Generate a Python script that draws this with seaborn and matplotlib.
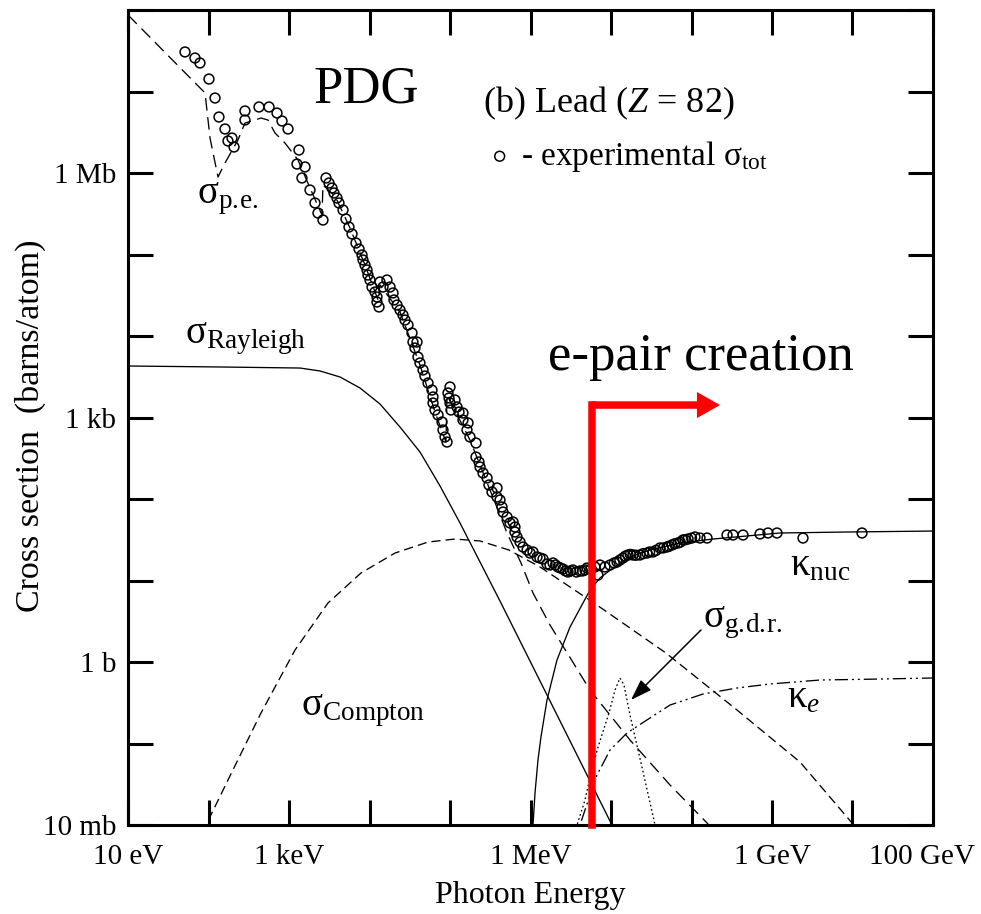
import numpy as np
import pandas as pd
import matplotlib
matplotlib.use("Agg")
import matplotlib.pyplot as plt
from matplotlib.patches import FancyArrowPatch, ArrowStyle
from matplotlib.ticker import FixedLocator, FixedFormatter, NullLocator
from matplotlib.transforms import ScaledTranslation
import seaborn as sns

# ---------------------------------------------------------------
# Values: log10(photon energy / eV) and
# log10(cross section / barn)
# ---------------------------------------------------------------
X_LIM_LOG = (1.0, 11.0)
Y_LIM_LOG = (-2.0, 8.0)

X_TICK_LOG = [1, 2, 3, 4, 5, 6, 7, 8, 9, 10, 11]
X_TICK_LABELS = ["10 eV", "", "1 keV", "", "", "1 MeV", "", "", "1 GeV", "", "100 GeV"]
Y_TICK_LOG = [-2, -1, 0, 1, 2, 3, 4, 5, 6, 7, 8]
Y_TICK_LABELS = ["10 mb", "", "1 b", "", "", "1 kb", "", "", "1 Mb", "", ""]

# experimental total cross section (open circles)
EXP_LOGE = [1.708, 1.832, 1.894, 2.006, 2.081, 2.130, 2.205, 2.242, 2.292, 2.317,
            2.453, 2.453, 2.627, 2.752, 2.851, 2.913, 2.988, 3.124, 3.099, 3.199,
            3.161, 3.261, 3.323, 3.360, 3.422, 3.460, 3.497, 3.534, 3.559, 3.596,
            3.621, 3.671, 3.708, 3.745, 3.783, 3.832, 3.870, 3.907, 3.919, 3.944,
            3.969, 3.981, 4.006, 4.031, 4.068, 4.093, 4.093, 4.118, 4.130, 4.168,
            4.217, 4.255, 4.292, 4.304, 4.342, 4.379, 4.416, 4.441, 4.478, 4.528,
            4.540, 4.590, 4.565, 4.602, 4.627, 4.665, 4.689, 4.727, 4.776, 4.789,
            4.789, 4.814, 4.851, 4.901, 4.913, 4.938, 4.963, 5.000, 4.975, 4.988,
            5.000, 5.012, 5.062, 5.087, 5.112, 5.161, 5.161, 5.224, 5.211, 5.248,
            5.323, 5.323, 5.360, 5.373, 5.410, 5.460, 5.484, 5.584, 5.522, 5.584,
            5.621, 5.646, 5.658, 5.708, 5.745, 5.783, 5.807, 5.807, 5.832, 5.870,
            5.907, 5.957, 5.994, 6.031, 6.081, 6.117, 6.155, 6.205, 6.242, 6.280,
            6.311, 6.342, 6.373, 6.404, 6.435, 6.466, 6.497, 6.528, 6.571, 6.615,
            6.646, 6.677, 6.702, 6.750, 6.801, 6.838, 6.863, 6.925, 6.988, 7.040,
            7.075, 7.110, 7.149, 7.180, 7.211, 7.240, 7.273, 7.310, 7.360, 7.400,
            7.447, 7.480, 7.522, 7.560, 7.609, 7.650, 7.696, 7.720, 7.758, 7.790,
            7.832, 7.860, 7.894, 7.920, 7.957, 8.000, 8.043, 8.106, 8.193, 8.441,
            8.516, 8.640, 8.851, 8.950, 9.062, 9.385, 10.118]
EXP_LOGSIG = [7.485, 7.411, 7.350, 7.153, 6.920, 6.687, 6.540, 6.393, 6.429, 6.319,
              6.761, 6.650, 6.810, 6.810, 6.736, 6.638, 6.540, 6.282, 6.110, 6.074,
              5.939, 5.791, 5.632, 5.509, 5.423, 5.939, 5.877, 5.816, 5.755, 5.693,
              5.632, 5.546, 5.436, 5.337, 5.252, 5.141, 5.067, 4.994, 4.933, 4.871,
              4.810, 4.748, 4.687, 4.601, 4.540, 4.479, 4.417, 4.356, 4.663, 4.601,
              4.687, 4.601, 4.528, 4.442, 4.380, 4.319, 4.258, 4.196, 4.135, 4.037,
              3.926, 3.926, 3.853, 3.742, 3.669, 3.583, 3.509, 3.423, 3.337, 3.252,
              3.178, 3.092, 3.031, 2.945, 2.847, 2.761, 2.699, 3.374, 3.301, 3.239,
              3.178, 3.092, 3.215, 3.129, 3.067, 3.055, 2.969, 2.933, 2.847, 2.761,
              2.687, 2.515, 2.454, 2.393, 2.319, 2.258, 2.172, 2.135, 2.086, 2.025,
              1.988, 1.902, 1.840, 1.779, 1.706, 1.718, 1.656, 1.595, 1.534, 1.472,
              1.411, 1.374, 1.337, 1.350, 1.288, 1.276, 1.264, 1.202, 1.190, 1.215,
              1.190, 1.166, 1.153, 1.141, 1.117, 1.104, 1.117, 1.129, 1.104, 1.117,
              1.117, 1.129, 1.153, 1.141, 1.166, 1.067, 1.190, 1.166, 1.190, 1.215,
              1.227, 1.250, 1.276, 1.300, 1.313, 1.320, 1.313, 1.310, 1.313, 1.330,
              1.337, 1.350, 1.350, 1.370, 1.399, 1.400, 1.411, 1.420, 1.436, 1.450,
              1.460, 1.470, 1.497, 1.500, 1.509, 1.520, 1.534, 1.521, 1.521, 1.558,
              1.558, 1.558, 1.571, 1.583, 1.583, 1.521, 1.583]

# photoelectric (sigma_p.e.)
PE_LOGE = [1.000, 1.957, 2.019, 2.118, 2.205, 2.366, 2.453, 2.578, 2.652, 2.739,
           2.826, 2.950, 3.112, 3.261, 3.410, 3.422, 3.571, 3.758, 3.944, 4.106,
           4.130, 4.379, 4.627, 4.814, 4.950, 4.963, 5.248, 5.497, 5.621, 5.708,
           5.882, 6.031, 6.242, 6.739, 7.236, 7.733, 8.193, 8.300]
PE_LOGSIG = [7.939, 6.982, 6.429, 5.951, 6.123, 6.405, 6.613, 6.650, 6.675, 6.650,
             6.491, 6.368, 6.160, 5.816, 5.485, 5.853, 5.718, 5.325, 4.871, 4.442,
             4.626, 4.294, 3.644, 3.067, 2.699, 3.276, 2.724, 2.110, 1.804, 1.583,
             1.215, 0.847, 0.454, -0.344, -0.957, -1.509, -1.975, -2.100]

# Rayleigh (coherent) scattering
RAY_LOGE = [1.000, 2.143, 3.137, 3.385, 3.634, 3.882, 4.130, 4.379, 4.627, 4.876,
            5.124, 5.373, 5.621, 5.994, 6.491, 7.012, 7.060]
RAY_LOGSIG = [3.632, 3.620, 3.607, 3.571, 3.497, 3.362, 3.166, 2.883, 2.577, 2.160,
              1.706, 1.227, 0.748, 0.012, -0.969, -2.000, -2.100]

# Compton (incoherent) scattering
COMP_LOGE = [1.930, 1.969, 2.242, 2.652, 3.075, 3.484, 3.894, 4.317, 4.727, 5.062,
             5.373, 5.733, 6.118, 6.789, 7.683, 8.565, 9.348, 9.994, 10.050]
COMP_LOGSIG = [-2.100, -2.000, -1.448, -0.626, 0.147, 0.724, 1.092, 1.337, 1.472, 1.509,
               1.485, 1.374, 1.166, 0.724, 0.110, -0.589, -1.227, -1.975, -2.100]

# pair production, nuclear field (kappa_nuc)
NUC_LOGE = [6.026, 6.031, 6.056, 6.093, 6.130, 6.205, 6.329, 6.491, 6.739, 6.863,
            7.025, 7.236, 7.484, 7.857, 8.267, 9.099, 9.932, 11.000]
NUC_LOGSIG = [-2.300, -2.000, -1.607, -1.202, -0.920, -0.466, 0.025, 0.429, 0.883, 1.031,
              1.153, 1.288, 1.374, 1.460, 1.509, 1.583, 1.595, 1.607]

# pair production, electron field (kappa_e)
KE_LOGE = [6.590, 6.615, 6.739, 6.826, 6.988, 7.199, 7.484, 7.733, 8.143, 8.565,
           8.975, 9.596, 10.342, 11.000]
KE_LOGSIG = [-2.300, -2.000, -1.632, -1.387, -1.080, -0.871, -0.687, -0.528, -0.393, -0.319,
             -0.270, -0.221, -0.209, -0.196]

# giant dipole resonance (sigma_g.d.r.)
GDR_LOGE = [6.560, 6.578, 6.677, 6.752, 6.839, 6.975, 7.050, 7.112, 7.161, 7.236,
            7.373, 7.547, 7.560]
GDR_LOGSIG = [-2.200, -2.000, -1.693, -1.362, -1.043, -0.626, -0.344, -0.196, -0.282, -0.650,
              -1.239, -2.000, -2.100]

# annotation anchors (log10 values)
GDR_ARROW_FROM = (8.118, 0.393)
GDR_ARROW_TO = (7.248, -0.466)
PAIR_LOGE = 6.764
PAIR_LOGSIG = 3.153
PAIR_TIP_LOGE = 8.354

# ---------------------------------------------------------------
sns.set_style("ticks")
plt.rcParams.update({
    "font.family": ["Liberation Serif", "DejaVu Serif"],
    "mathtext.fontset": "custom",
    "mathtext.rm": "Liberation Serif",
    "mathtext.it": "Liberation Serif:italic",
    "mathtext.bf": "Liberation Serif:bold",
    "axes.edgecolor": "black",
    "text.color": "black",
    "xtick.color": "black",
    "ytick.color": "black",
    "axes.labelcolor": "black",
})

fig = plt.figure(figsize=(9.81, 9.14), dpi=100)
ax = fig.add_axes([0.13048, 0.09737, 0.82059, 0.89168])
ax.set_xscale("log")
ax.set_yscale("log")


def draw_curve(loge, logsig, linestyle):
    df = pd.DataFrame({"E": 10.0 ** np.asarray(loge), "sigma": 10.0 ** np.asarray(logsig)})
    sns.lineplot(data=df, x="E", y="sigma", sort=False, estimator=None, ax=ax,
                 color="black", linewidth=0.95, linestyle=linestyle, legend=False)


draw_curve(RAY_LOGE, RAY_LOGSIG, "-")
draw_curve(NUC_LOGE, NUC_LOGSIG, "-")
draw_curve(COMP_LOGE, COMP_LOGSIG, (0, (7.0, 3.8)))
draw_curve(PE_LOGE, PE_LOGSIG, (0, (9.5, 5.0)))
draw_curve(KE_LOGE, KE_LOGSIG, (0, (10, 3, 1.5, 3, 1.5, 3)))
draw_curve(GDR_LOGE, GDR_LOGSIG, (0, (1.3, 2.0)))

exp_df = pd.DataFrame({"E": 10.0 ** np.asarray(EXP_LOGE), "sigma": 10.0 ** np.asarray(EXP_LOGSIG)})
sns.scatterplot(data=exp_df, x="E", y="sigma", ax=ax, marker="o", s=50,
                facecolors="none", edgecolor="black", linewidth=1.1, zorder=4,
                label="- experimental σ$_{\\mathrm{tot}}$")

ax.set_xlim(10 ** X_LIM_LOG[0], 10 ** X_LIM_LOG[1])
ax.set_ylim(10 ** Y_LIM_LOG[0], 10 ** Y_LIM_LOG[1])

ax.xaxis.set_major_locator(FixedLocator([10.0 ** v for v in X_TICK_LOG]))
ax.xaxis.set_major_formatter(FixedFormatter(X_TICK_LABELS))
ax.yaxis.set_major_locator(FixedLocator([10.0 ** v for v in Y_TICK_LOG]))
ax.yaxis.set_major_formatter(FixedFormatter(Y_TICK_LABELS))
ax.xaxis.set_minor_locator(NullLocator())
ax.yaxis.set_minor_locator(NullLocator())
ax.tick_params(which="major", direction="in", length=18, width=2.2,
               top=True, right=True, labelsize=21)
ax.tick_params(axis="x", pad=14)
ax.tick_params(axis="y", pad=8.5)
for sp in ax.spines.values():
    sp.set_linewidth(2.2)
    sp.set_color("black")

ax.set_xlabel("Photon Energy", fontsize=23)
ax.xaxis.set_label_coords(0.5, -0.069)
ax.set_ylabel("Cross section  (barns/atom)", fontsize=24.5)
ax.yaxis.set_label_coords(-0.102, 0.49)

# legend block
h, l = ax.get_legend_handles_labels()
leg = ax.legend(handles=h, labels=l, title="(b) Lead ($Z$ = 82)", loc="upper left",
                bbox_to_anchor=(0.441, 0.908), frameon=False, fontsize=24, title_fontsize=26,
                alignment="left", handlelength=1.0, handletextpad=0.15, borderpad=0,
                borderaxespad=0, labelspacing=0.5, scatterpoints=1)
leg._legend_box.sep = 12

# curve labels
lab_kw = dict(transform=ax.transAxes, ha="left", va="baseline", fontsize=28)
ax.text(0.0857, 0.7632, "σ$_{\\mathrm{p.\\!e.}}$", **lab_kw)
ax.text(0.0708, 0.5914, "σ$_{\\mathrm{Rayleigh}}$", **lab_kw)
ax.text(0.2149, 0.1350, "σ$_{\\mathrm{Compton}}$", **lab_kw)
ax.text(0.8224, 0.3067, "κ$_{\\mathrm{nuc}}$", **lab_kw)
ax.text(0.7143, 0.2429, "σ$_{\\mathrm{g.\\!d.\\!r.}}$", **lab_kw)
ax.text(0.8186, 0.1448, "κ$_{e}$", **lab_kw)

ax.annotate("", xy=(10 ** GDR_ARROW_TO[0], 10 ** GDR_ARROW_TO[1]),
            xytext=(10 ** GDR_ARROW_FROM[0], 10 ** GDR_ARROW_FROM[1]),
            arrowprops=dict(arrowstyle="-|>,head_length=0.65,head_width=0.22",
                            mutation_scale=20, color="black", lw=1.1,
                            shrinkA=0, shrinkB=0))

# overlay: PDG and e-pair creation marker
ax.text(0.2298, 0.8871, "PDG", transform=ax.transAxes, ha="left", va="baseline", fontsize=38)
ax.text(0.5217, 0.5583, "e-pair creation", transform=ax.transAxes, ha="left",
        va="baseline", fontsize=38)
ax.plot([10 ** PAIR_LOGE, 10 ** PAIR_LOGE], [10 ** Y_LIM_LOG[0], 10 ** PAIR_LOGSIG],
        color="red", lw=5.4, solid_capstyle="projecting", clip_on=False, zorder=6)
ax.add_patch(FancyArrowPatch(
    posA=(10 ** PAIR_LOGE, 10 ** PAIR_LOGSIG), posB=(10 ** PAIR_TIP_LOGE, 10 ** PAIR_LOGSIG),
    arrowstyle=ArrowStyle.Simple(head_length=0.83, head_width=0.94, tail_width=0.27),
    mutation_scale=20, color="red", lw=0, shrinkA=0, shrinkB=0,
    transform=ax.transData, zorder=6))

# nudge the last energy label inward, as in the reference
fig.canvas.draw()
last_lab = ax.xaxis.get_major_ticks()[-1].label1
last_lab.set_transform(last_lab.get_transform() + ScaledTranslation(-0.11, 0, fig.dpi_scale_trans))

fig.savefig("out.png", dpi=100)
